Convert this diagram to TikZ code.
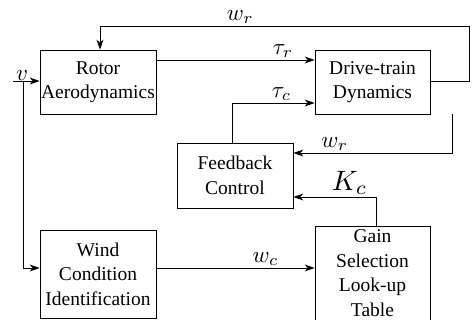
\documentclass[tikz,border=0pt]{standalone}
\usepackage{fontspec}
\setmainfont{Liberation Serif}
\usetikzlibrary{arrows.meta}
\begin{document}
\begin{tikzpicture}[x=1pt,y=-1pt,
  box/.style={draw,line width=0.8pt,align=center,inner sep=0pt,font=\fontsize{19.5}{24.5}\selectfont},
  arr/.style={line width=0.8pt,-{Stealth[length=10pt,width=7pt]}},
  lbl/.style={scale=2.3,inner sep=0.5pt},
  biglbl/.style={scale=2.8,inner sep=0.5pt}]
\useasboundingbox (0,0) rectangle (473,320);
\node[box,minimum width=116pt,minimum height=64pt] (rotor) at (98,82) {Rotor\\Aerodynamics};
\node[box,minimum width=115pt,minimum height=64pt] (drive) at (372.5,82) {Drive-train\\Dynamics};
\node[box,minimum width=116pt,minimum height=65pt] (fb) at (235,175.5) {Feedback\\Control};
\node[box,minimum width=116pt,minimum height=88pt] (wind) at (98,274) {Wind\\Condition\\Identification};
\node[box,minimum width=115pt,minimum height=94pt] (gain) at (372.5,273) {Gain\\Selection\\Look-up\\Table};
% helper coordinates
\coordinate (ytop) at (100,26);
\coordinate (xright) at (469,81);
\coordinate (ytr) at (0,60);
\coordinate (ytc) at (232,103);
\coordinate (ywr) at (452,153);
\coordinate (yk) at (376,197);
\coordinate (ywc) at (0,268);
\coordinate (vstart) at (13,81);
\coordinate (vsplit) at (23,81);
% w_r top feedback
\draw[arr] (drive.east |- xright) -- (xright) |- node[lbl,above,pos=0.81]{$w_r$} (ytop) -- (ytop |- rotor.north);
% tau_r
\draw[arr] (rotor.east |- ytr) -- node[lbl,above,pos=0.8]{$\tau_r$} (drive.west |- ytr);
% tau_c
\draw[arr] (fb.north -| ytc) |- node[lbl,above,pos=0.8]{$\tau_c$} (drive.west |- ytc);
% w_r lower
\draw[arr] (drive.south -| ywr) |- node[lbl,above,pos=0.87]{$w_r$} (fb.east |- ywr);
% K_c
\draw[arr] (gain.north -| yk) |- node[biglbl,above,pos=0.66]{$K_c$} (fb.east |- yk);
% w_c
\draw[arr] (wind.east |- ywc) -- node[lbl,above,pos=0.69]{$w_c$} (gain.west |- ywc);
% v
\draw[arr] (vstart) node[lbl,above right,xshift=1pt,inner sep=0pt]{$v$} -- (rotor.west |- vstart);
\draw[arr] (vsplit) |- (wind.west |- ywc);
\end{tikzpicture}
\end{document}
